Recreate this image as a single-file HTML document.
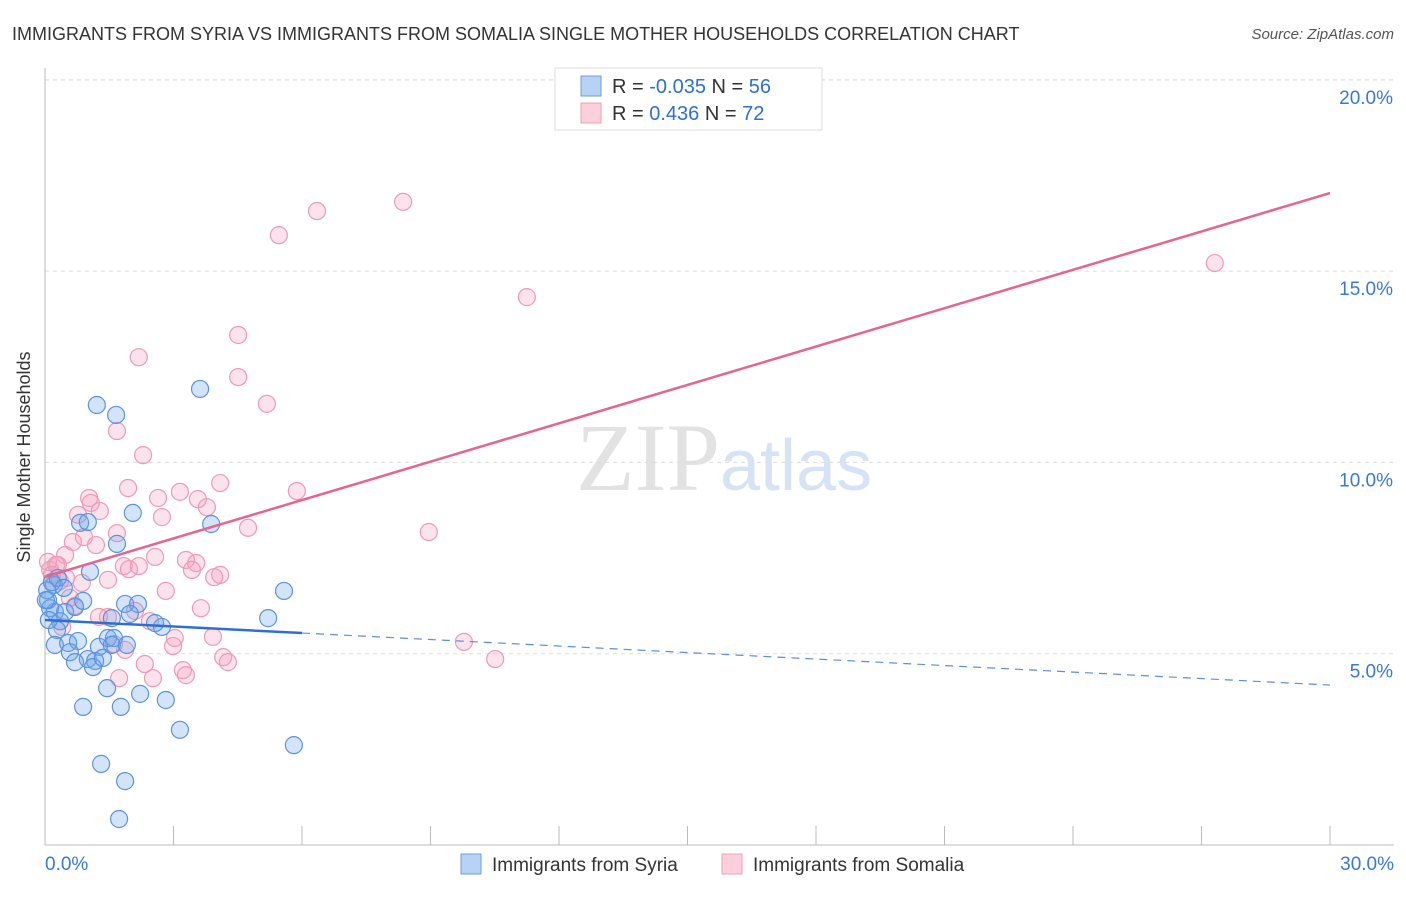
<!DOCTYPE html>
<html><head><meta charset="utf-8"><style>
body{margin:0;background:#fff;font-family:"Liberation Sans",sans-serif}
</style></head><body>
<svg width="1406" height="892" xmlns="http://www.w3.org/2000/svg" id="chart">
<text x="12" y="40" font-size="18" fill="#333">IMMIGRANTS FROM SYRIA VS IMMIGRANTS FROM SOMALIA SINGLE MOTHER HOUSEHOLDS CORRELATION CHART</text>
<text x="1394" y="39" font-size="15" fill="#555" text-anchor="end" font-style="italic">Source: ZipAtlas.com</text>
<text x="720" y="490" font-size="96" fill="#e2e2e2" text-anchor="end" font-family="Liberation Serif">ZIP</text>
<text x="720" y="490" font-size="72" fill="#d5e3f5">atlas</text>
<g id="grid"></g><g id="axes"></g><g id="marks"></g>
<text x="30" y="457" font-size="18" fill="#333" text-anchor="middle" transform="rotate(-90 30 457)">Single Mother Households</text>
<g>
<rect x="555" y="68" width="267" height="62" fill="#fff" stroke="#ddd"/>
<rect x="581" y="76" width="20" height="20" fill="#b8d2f5" stroke="#6a9de0"/>
<rect x="581" y="103" width="20" height="20" fill="#fbcfdc" stroke="#eea0b9"/>
<text x="612" y="93" font-size="20" fill="#333">R = <tspan fill="#2f6fd1">-0.035</tspan>   N = <tspan fill="#2f6fd1">56</tspan></text>
<text x="612" y="120" font-size="20" fill="#333">R =  <tspan fill="#2f6fd1"> 0.436</tspan>   N = <tspan fill="#2f6fd1">72</tspan></text>
</g>
<g>
<rect x="461" y="854" width="20" height="20" fill="#b8d2f5" stroke="#6a9de0"/>
<text x="492" y="871" font-size="19" fill="#333">Immigrants from Syria</text>
<rect x="722" y="854" width="20" height="20" fill="#fbcfdc" stroke="#eea0b9"/>
<text x="753" y="871" font-size="19" fill="#333">Immigrants from Somalia</text>
</g>
</svg>
<script>
const xTicks=[0,3,6,9,12,15,18,21,24,27,30];
const yTicks=[5,10,15,20];
const yTickLabels=["5.0%","10.0%","15.0%","20.0%"];
const syriaX=[1.21,1.66,3.62,2.05,3.88,0.82,1.00,1.68,1.05,5.58,5.21,0.21,0.12,0.23,0.47,0.70,0.89,1.87,2.17,1.98,2.73,2.57,1.56,0.35,0.28,0.23,0.54,0.77,1.26,1.47,1.61,1.56,1.91,0.58,1.00,1.17,1.12,0.70,1.35,1.45,2.22,2.82,0.89,1.77,3.15,5.81,1.31,1.87,1.73,0.07,0.05,0.16,0.30,0.02,0.44,0.09];
const syriaY=[11.50,11.24,11.92,8.68,8.39,8.42,8.44,7.87,7.14,6.64,5.93,6.80,6.19,6.09,6.09,6.22,6.38,6.30,6.30,6.04,5.70,5.80,5.93,5.85,5.62,5.23,5.28,5.33,5.18,5.41,5.41,5.23,5.23,5.04,4.86,4.81,4.65,4.78,4.89,4.10,3.95,3.79,3.61,3.61,3.01,2.61,2.12,1.67,0.68,6.40,6.66,6.87,6.98,6.40,6.72,5.88];
const somaliaX=[8.36,6.35,5.46,11.25,27.31,4.51,2.19,4.51,5.18,1.68,2.29,4.09,1.94,3.15,5.88,2.64,1.03,1.07,3.57,3.78,2.73,1.28,0.77,4.74,8.96,1.68,0.91,0.65,1.19,0.47,2.57,3.29,3.53,0.30,1.84,2.19,1.96,0.12,3.43,4.09,3.95,1.47,0.49,2.82,3.64,2.45,1.26,1.47,3.03,2.99,3.92,9.78,1.87,1.61,2.33,3.22,3.29,4.16,4.27,10.51,1.73,2.52,0.40,0.58,0.07,0.16,0.26,0.35,0.86,2.10,0.70];
const somaliaY=[16.81,16.57,15.94,14.32,15.21,13.33,12.75,12.23,11.53,10.82,10.19,9.46,9.33,9.23,9.25,9.07,9.07,8.94,9.04,8.83,8.57,8.73,8.63,8.29,8.18,8.15,8.05,7.92,7.84,7.58,7.53,7.45,7.37,7.32,7.29,7.29,7.21,7.19,7.19,7.06,7.00,6.93,6.98,6.64,6.19,5.85,5.96,5.96,5.41,5.20,5.44,5.31,5.10,5.25,4.73,4.57,4.44,4.91,4.78,4.86,4.36,4.36,5.70,6.46,7.40,7.06,7.32,6.90,6.85,6.12,6.25];
const syriaTrend=[5.88,4.18];
const somaliaTrend=[7.01,17.04];
const syriaSolidEnd=6.0;
const NS="http://www.w3.org/2000/svg";
const X=v=>45+v/30*1285;
const Y=v=>845-v/5*191.3;
function mk(tag,attrs,parent){const e=document.createElementNS(NS,tag);for(const k in attrs)e.setAttribute(k,attrs[k]);parent.appendChild(e);return e;}
const grid=document.getElementById('grid'),axes=document.getElementById('axes'),marks=document.getElementById('marks');
yTicks.forEach((t,i)=>{
 const l=mk('line',{x1:45,x2:1394,y1:Y(t),y2:Y(t),stroke:'#ddd','stroke-dasharray':'4,4'},grid);
 
 
 const tx=mk('text',{x:1393,y:Y(t)+24,'font-size':19,fill:'#3a78d4','text-anchor':'end'},axes);
 tx.textContent=yTickLabels[i];
 
 
});
const gtop=mk('line',{x1:45,x2:1394,y1:80,y2:80,stroke:'#ddd','stroke-dasharray':'4,4'},grid);
const yax=mk('line',{x1:45,x2:45,y1:68,y2:845,stroke:'#bbb'},axes);


const xax=mk('line',{x1:45,x2:1394,y1:845,y2:845,stroke:'#bbb'},axes);


xTicks.forEach(t=>{
 const l=mk('line',{x1:X(t),x2:X(t),y1:826,y2:845,stroke:'#bbb'},axes);
 
 
});
[[0,"0.0%","start",45],[30,"30.0%","end",1394]].forEach(a=>{
 const tx=mk('text',{x:a[3],y:870,'font-size':19,fill:'#3a78d4','text-anchor':a[2]},axes);
 tx.textContent=a[1];
 
 
});
function pts(xs,ys,fill,stroke,name){
 xs.forEach((x,i)=>{
  const c=mk('circle',{cx:X(x),cy:Y(ys[i]),r:8.5,fill:fill,stroke:stroke,'stroke-width':1.2},marks);
  
  
 });
}
pts(somaliaX,somaliaY,'rgba(245,160,190,0.3)','#eb9bb6','somalia-point');
pts(syriaX,syriaY,'rgba(110,165,235,0.3)','#5b93de','syria-point');
const s1=mk('line',{x1:X(0),y1:Y(syriaTrend[0]),x2:X(syriaSolidEnd),y2:Y(syriaTrend[0]+(syriaTrend[1]-syriaTrend[0])*syriaSolidEnd/30),stroke:'#2f6fd1','stroke-width':2.5},marks);


const s2=mk('line',{x1:X(syriaSolidEnd),y1:Y(syriaTrend[0]+(syriaTrend[1]-syriaTrend[0])*syriaSolidEnd/30),x2:X(30),y2:Y(syriaTrend[1]),stroke:'#5b8fd8','stroke-width':1.2,'stroke-dasharray':'8,6'},marks);


const p1=mk('line',{x1:X(0),y1:Y(somaliaTrend[0]),x2:X(30),y2:Y(somaliaTrend[1]),stroke:'#e5658f','stroke-width':2.5},marks);


</script>
</body></html>
